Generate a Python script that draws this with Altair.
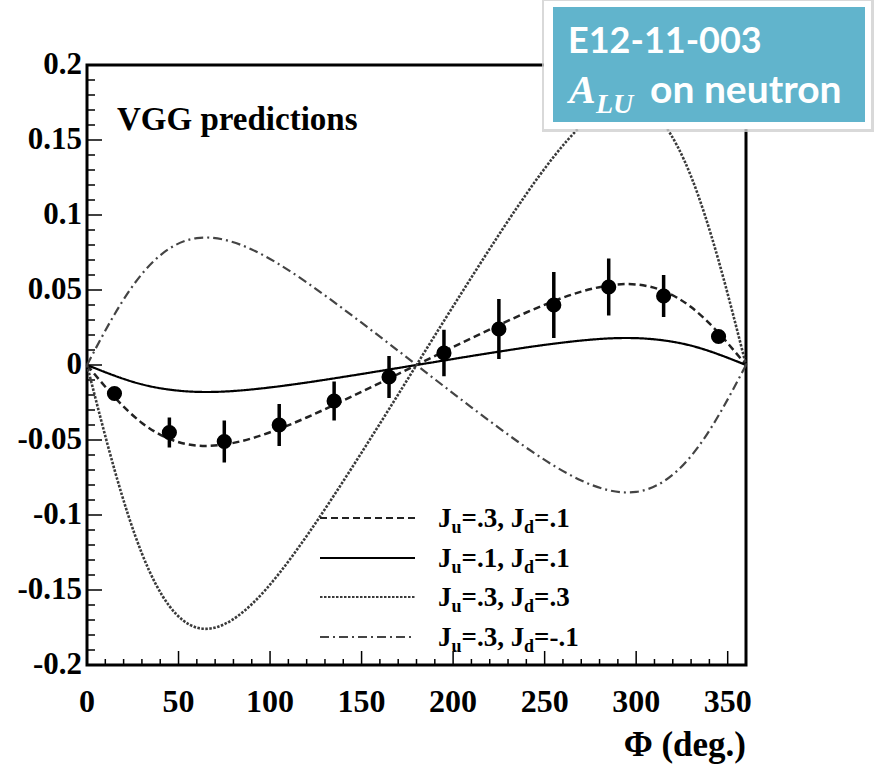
import altair as alt
import pandas as pd

# ---- model curves: A_LU vs phi (deg) for four (Ju, Jd) choices ----
phi_deg = [0, 15, 30, 45, 60, 75, 90, 105, 120, 135, 150, 165, 180,
           195, 210, 225, 240, 255, 270, 285, 300, 315, 330, 345, 360]
alu_ju3_jd1 = [0, -0.0214, -0.0386, -0.0493, -0.0537, -0.0530, -0.0489, -0.0426, -0.0350,
               -0.0266, -0.0179, -0.0090, 0, 0.0090, 0.0179, 0.0266, 0.0350, 0.0426,
               0.0489, 0.0530, 0.0537, 0.0493, 0.0386, 0.0214, 0]
alu_ju1_jd1 = [0, -0.0071, -0.0129, -0.0164, -0.0179, -0.0177, -0.0163, -0.0142, -0.0117,
               -0.0089, -0.0060, -0.0030, 0, 0.0030, 0.0060, 0.0089, 0.0117, 0.0142,
               0.0163, 0.0177, 0.0179, 0.0164, 0.0129, 0.0071, 0]
alu_ju3_jd3 = [0, -0.0697, -0.1257, -0.1607, -0.1751, -0.1728, -0.1595, -0.1389, -0.1140,
               -0.0868, -0.0584, -0.0294, 0, 0.0294, 0.0584, 0.0868, 0.1140, 0.1389,
               0.1595, 0.1728, 0.1751, 0.1607, 0.1257, 0.0697, 0]
alu_ju3_jdm1 = [0, 0.0337, 0.0607, 0.0776, 0.0846, 0.0835, 0.0770, 0.0671, 0.0551,
                0.0419, 0.0282, 0.0142, 0, -0.0142, -0.0282, -0.0419, -0.0551, -0.0671,
                -0.0770, -0.0835, -0.0846, -0.0776, -0.0607, -0.0337, 0]

# ---- projected data points ----
data_phi = [15, 45, 75, 105, 135, 165, 195, 225, 255, 285, 315, 345]
data_alu = [-0.019, -0.045, -0.051, -0.040, -0.024, -0.008,
            0.008, 0.024, 0.040, 0.052, 0.046, 0.019]
data_err = [0.004, 0.010, 0.014, 0.014, 0.013, 0.014,
            0.0155, 0.020, 0.022, 0.019, 0.014, 0.004]

# ---- axis ticks and their labels ----
x_major = [0, 50, 100, 150, 200, 250, 300, 350]
x_minor = list(range(0, 361, 10))
y_major = [-0.2, -0.15, -0.1, -0.05, 0, 0.05, 0.1, 0.15, 0.2]
y_minor = [round(-0.2 + 0.01 * i, 2) for i in range(41)]

# legend entries
ju_text = [".3", ".1", ".3", ".3"]
jd_text = [".1", ".1", ".3", "-.1"]

W, H = 659, 600
SERIF = "Liberation Serif"

xs = alt.Scale(domain=[0, 360], nice=False, zero=False)
ys = alt.Scale(domain=[-0.2, 0.2], nice=False, zero=False)

styles = [
    dict(values=alu_ju3_jd1, color="#222222", width=2.5, dash=[7, 4]),
    dict(values=alu_ju1_jd1, color="#000000", width=2.2, dash=[1, 0]),
    dict(values=alu_ju3_jd3, color="#3a3a3a", width=2.6, dash=[2.5, 1.5]),
    dict(values=alu_ju3_jdm1, color="#444444", width=2.2, dash=[9, 4, 2, 4]),
]

pts = pd.DataFrame({"phi": data_phi, "alu": data_alu, "err": data_err})
pts["lo"] = pts["alu"] - pts["err"]
pts["hi"] = pts["alu"] + pts["err"]

layers = []

# inner ticks on the left and bottom edges
ytick_df = pd.DataFrame({"v": y_minor, "len": [15 if any(abs(v - m) < 1e-9 for m in y_major) else 8 for v in y_minor]})
for length in (8, 15):
    sub = ytick_df[ytick_df["len"] == length]
    layers.append(
        alt.Chart(sub).mark_rule(color="black", strokeWidth=1.5).encode(
            x=alt.value(0), x2=alt.value(length),
            y=alt.Y("v:Q", scale=ys, axis=None),
        )
    )
xtick_df = pd.DataFrame({"v": x_minor, "len": [14 if v in x_major else 6 for v in x_minor]})
for length in (6, 14):
    sub = xtick_df[xtick_df["len"] == length]
    layers.append(
        alt.Chart(sub).mark_rule(color="black", strokeWidth=1.5).encode(
            x=alt.X("v:Q", scale=xs, axis=None),
            y=alt.value(H), y2=alt.value(H - length),
        )
    )

# tick labels, placed through the same scales
ylab_df = pd.DataFrame({"v": y_major, "t": [f"{v:g}" for v in y_major]})
layers.append(
    alt.Chart(ylab_df).mark_text(
        font=SERIF, fontSize=31, fontWeight="bold", color="black",
        align="right", baseline="middle",
    ).encode(x=alt.value(-5), y=alt.Y("v:Q", scale=ys, axis=None), text="t:N")
)
xlab_df = pd.DataFrame({"v": x_major, "t": [str(v) for v in x_major]})
layers.append(
    alt.Chart(xlab_df).mark_text(
        font=SERIF, fontSize=32, fontWeight="bold", color="black",
        align="center", baseline="top",
    ).encode(x=alt.X("v:Q", scale=xs, axis=None), y=alt.value(H + 22), text="t:N")
)

# model curves
for st in styles:
    df = pd.DataFrame({"phi": phi_deg, "alu": st["values"]})
    layers.append(
        alt.Chart(df).mark_line(
            color=st["color"], strokeWidth=st["width"], strokeDash=st["dash"],
            interpolate="natural",
        ).encode(
            x=alt.X("phi:Q", scale=xs, axis=None),
            y=alt.Y("alu:Q", scale=ys, axis=None),
        )
    )

# data with error bars
layers.append(
    alt.Chart(pts).mark_rule(color="black", strokeWidth=3.5).encode(
        x=alt.X("phi:Q", scale=xs, axis=None),
        y=alt.Y("lo:Q", scale=ys, axis=None),
        y2="hi:Q",
    )
)
layers.append(
    alt.Chart(pts).mark_point(shape="circle", filled=True, color="black", size=230, opacity=1).encode(
        x=alt.X("phi:Q", scale=xs, axis=None),
        y=alt.Y("alu:Q", scale=ys, axis=None),
    )
)

one = pd.DataFrame({"k": [0]})


def text_layer(txt, x, y, size, font=SERIF, weight="bold", style="normal", color="black", align="left", baseline="alphabetic"):
    return alt.Chart(pd.DataFrame({"t": [txt]})).mark_text(
        font=font, fontSize=size, fontWeight=weight, fontStyle=style,
        color=color, align=align, baseline=baseline,
    ).encode(x=alt.value(x), y=alt.value(y), text="t:N")


# plot label and axis title
layers.append(text_layer("VGG predictions", 30, 65, 33))
layers.append(text_layer("Φ (deg.)", W, 691, 35, align="right"))

# legend
row_y = [453, 493, 532, 572]
for i, st in enumerate(styles):
    layers.append(
        alt.Chart(one).mark_rule(
            color=st["color"], strokeWidth=st["width"] * 0.8, strokeDash=st["dash"]
        ).encode(x=alt.value(233), x2=alt.value(328), y=alt.value(row_y[i]))
    )
    y0 = row_y[i] + 9
    layers.append(text_layer("J", 351, y0, 27))
    layers.append(text_layer("u", 364.5, y0 + 6, 18))
    layers.append(text_layer("=" + ju_text[i] + ", J", 374.5, y0, 27))
    layers.append(text_layer("d", 437, y0 + 6, 18))
    layers.append(text_layer("=" + jd_text[i], 447, y0, 27))

# experiment tag box
layers.append(
    alt.Chart(one).mark_rect(color="#cfcfcf", opacity=0.8).encode(
        x=alt.value(455), x2=alt.value(787), y=alt.value(-65), y2=alt.value(67)
    )
)
layers.append(
    alt.Chart(one).mark_rect(color="white").encode(
        x=alt.value(457), x2=alt.value(784), y=alt.value(-64), y2=alt.value(64)
    )
)
layers.append(
    alt.Chart(one).mark_rect(color="#61b4cc").encode(
        x=alt.value(466), x2=alt.value(778), y=alt.value(-58), y2=alt.value(57)
    )
)
layers.append(text_layer("E12-11-003", 481, -12, 36, font="Lato", color="white"))
layers.append(text_layer("A", 482, 38, 40, weight="bold", style="italic", color="white"))
layers.append(text_layer("LU", 509, 48, 28, weight="bold", style="italic", color="white"))
layers.append(text_layer("on neutron", 563, 38, 39, font="Lato", color="white"))

chart = alt.layer(*layers).properties(
    width=W, height=H,
    autosize=alt.AutoSizeParams(type="none"),
    padding={"left": 87, "top": 65, "right": 129, "bottom": 102},
    background="white",
).configure_view(
    stroke="black", strokeWidth=3
)

chart.save("out.html", embed_options={"renderer": "svg", "actions": False})
